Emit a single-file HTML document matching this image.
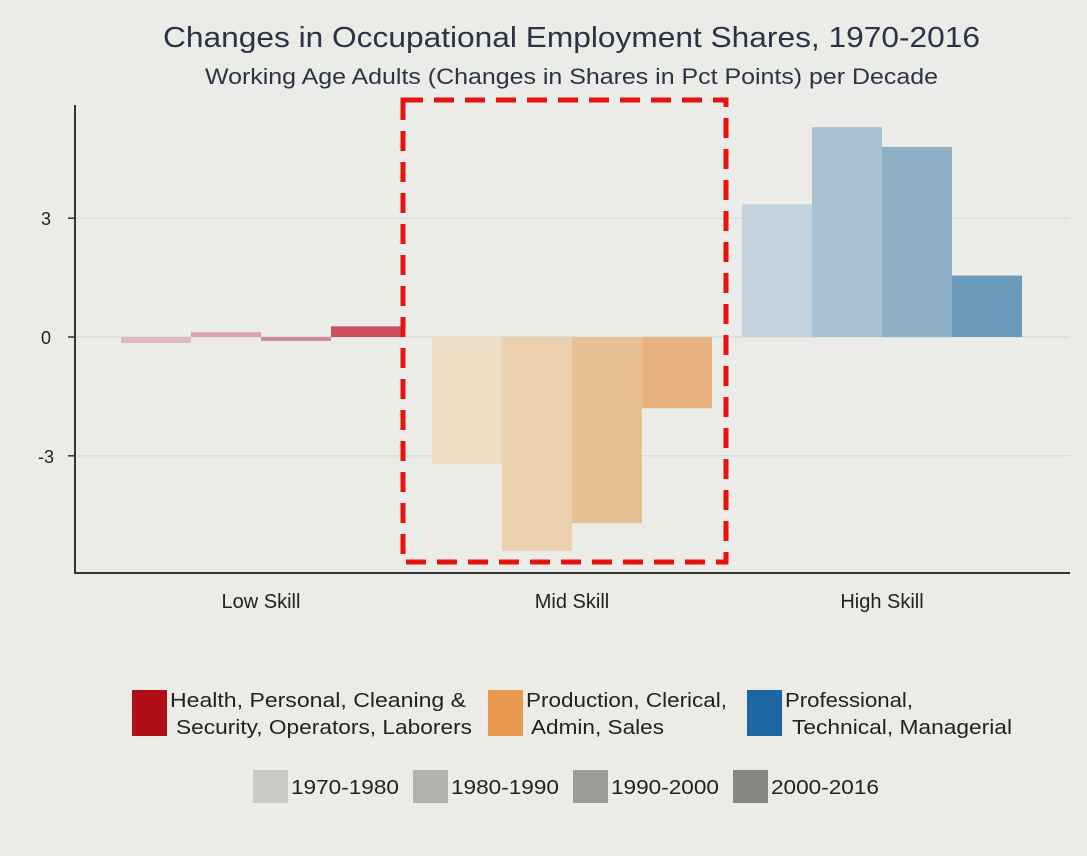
<!DOCTYPE html>
<html><head><meta charset="utf-8"><style>
body{margin:0;background:#ebece7;width:1087px;height:851px;overflow:hidden;font-family:"Liberation Sans",sans-serif;}
svg text{font-family:"Liberation Sans",sans-serif;}
</style></head><body>
<svg id="c" width="1087" height="851">
<rect width="1087" height="851" fill="#ebece7"/>
<text x="163" y="47" font-size="29" textLength="817" lengthAdjust="spacingAndGlyphs" fill="#2a3447">Changes in Occupational Employment Shares, 1970-2016</text>
<text x="205" y="84" font-size="22" textLength="733" lengthAdjust="spacingAndGlyphs" fill="#2a3447">Working Age Adults (Changes in Shares in Pct Points) per Decade</text>
<g id="grid"></g><g id="bars"></g><g id="axes"></g>
<rect x="403" y="100" width="323" height="462" fill="none" stroke="#e8120f" stroke-width="5" stroke-dasharray="20,11"/>
<g>
<rect x="132" y="690" width="35" height="46" fill="#b00f17"/>
<text x="170" y="707" font-size="20" textLength="296" lengthAdjust="spacingAndGlyphs" fill="#222">Health, Personal, Cleaning &amp;</text>
<text x="176" y="734" font-size="20" textLength="296" lengthAdjust="spacingAndGlyphs" fill="#222">Security, Operators, Laborers</text>
<rect x="488" y="690" width="35" height="46" fill="#e8994f"/>
<text x="526" y="707" font-size="20" textLength="201" lengthAdjust="spacingAndGlyphs" fill="#222">Production, Clerical,</text>
<text x="531" y="734" font-size="20" textLength="133" lengthAdjust="spacingAndGlyphs" fill="#222">Admin, Sales</text>
<rect x="747" y="690" width="35" height="46" fill="#1c67a0"/>
<text x="785" y="707" font-size="20" textLength="128" lengthAdjust="spacingAndGlyphs" fill="#222">Professional,</text>
<text x="792" y="734" font-size="20" textLength="220" lengthAdjust="spacingAndGlyphs" fill="#222">Technical, Managerial</text>
<rect x="253" y="770" width="35" height="33" fill="#c9cac5"/>
<text x="291" y="794" font-size="20" textLength="108" lengthAdjust="spacingAndGlyphs" fill="#222">1970-1980</text>
<rect x="413" y="770" width="35" height="33" fill="#b2b3ae"/>
<text x="451" y="794" font-size="20" textLength="108" lengthAdjust="spacingAndGlyphs" fill="#222">1980-1990</text>
<rect x="573" y="770" width="35" height="33" fill="#9c9d98"/>
<text x="611" y="794" font-size="20" textLength="108" lengthAdjust="spacingAndGlyphs" fill="#222">1990-2000</text>
<rect x="733" y="770" width="35" height="33" fill="#858681"/>
<text x="771" y="794" font-size="20" textLength="108" lengthAdjust="spacingAndGlyphs" fill="#222">2000-2016</text>
</g>
</svg>
<script>
const categories=["Low Skill","Mid Skill","High Skill"];
const periods=["1970-1980","1980-1990","1990-2000","2000-2016"];
const lowValues=[-0.15,0.12,-0.1,0.27];
const midValues=[-3.2,-5.4,-4.7,-1.8];
const highValues=[3.35,5.3,4.8,1.55];
const yTicks=[-3,0,3];
const colors=[["#dfb9bd","#d9a3ab","#cf8a94","#c9505f"],["#ecdcc4","#ead0ac","#e8c096","#e8b380"],["#c3d3de","#a8c2d3","#8cafc6","#6b99b9"]];
const NS="http://www.w3.org/2000/svg";
const y0=337,unit=39.6;
function yScale(v){return y0-v*unit;}
const groupStart=[121,432,742],barW=70;
function xScale(g,i){return groupStart[g]+i*barW;}
function mk(t,a,p){const e=document.createElementNS(NS,t);for(const k in a)e.setAttribute(k,a[k]);document.getElementById(p).appendChild(e);return e;}
yTicks.forEach(t=>{
 const l=mk("line",{x1:76,x2:1070,y1:yScale(t),y2:yScale(t),stroke:"#d4dfdc","stroke-width":1.5},"grid");
 
 
 const tk=mk("line",{x1:68,x2:76,y1:yScale(t),y2:yScale(t),stroke:"#333","stroke-width":1.5},"axes");
 
 
 const tx=mk("text",{x:46,y:yScale(t)+7,"text-anchor":"middle","font-size":18,fill:"#222"},"axes");
 tx.textContent=t;
 
 
});
[lowValues,midValues,highValues].forEach((vals,g)=>{
 vals.forEach((v,i)=>{
  const y=Math.min(yScale(v),y0),h=Math.abs(yScale(v)-y0);
  const r=mk("rect",{x:xScale(g,i),y:y,width:barW,height:h,fill:colors[g][i]},"bars");
  
  
 });
 const lb=mk("text",{x:xScale(g,0)+barW*2,y:608,"text-anchor":"middle","font-size":20,fill:"#222"},"axes");
 lb.textContent=categories[g];
 
 
});
const ya=mk("line",{x1:75,x2:75,y1:105,y2:574,stroke:"#333","stroke-width":2},"axes");


const xa=mk("line",{x1:74,x2:1070,y1:573,y2:573,stroke:"#333","stroke-width":2},"axes");


</script>
</body></html>
